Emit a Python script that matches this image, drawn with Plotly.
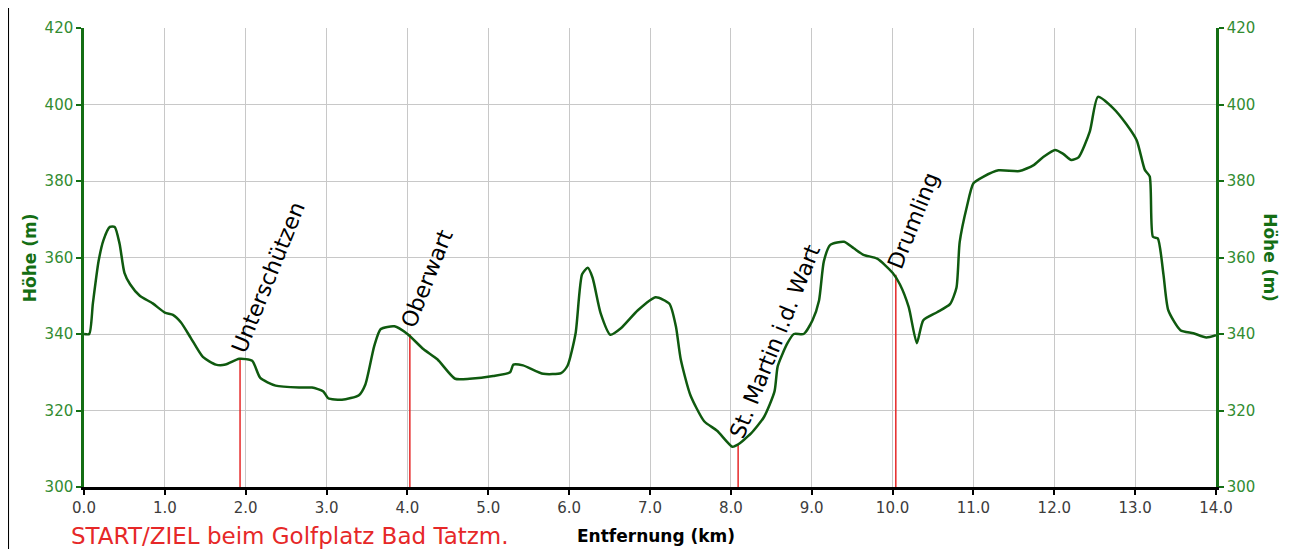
import plotly.graph_objects as go

# Elevation profile (distance km, elevation m)
km = [0.0, 0.065, 0.11, 0.18, 0.24, 0.32, 0.38, 0.44, 0.5, 0.57, 0.69, 0.85, 1.0, 1.1, 1.2, 1.32,
      1.47, 1.63, 1.75, 1.92, 2.08, 2.18, 2.37, 2.66, 2.82, 2.96, 3.02, 3.19, 3.4, 3.48, 3.59,
      3.67, 3.84, 4.0, 4.2, 4.37, 4.59, 4.77, 5.06, 5.27, 5.31, 5.43, 5.68, 5.9, 5.98, 6.08,
      6.16, 6.23, 6.29, 6.39, 6.51, 6.64, 6.85, 7.07, 7.24, 7.32, 7.38, 7.5, 7.67, 7.83, 8.02,
      8.08, 8.25, 8.41, 8.54, 8.58, 8.7, 8.78, 8.9, 9.01, 9.09, 9.15, 9.23, 9.4, 9.52, 9.64,
      9.81, 10.0, 10.09, 10.2, 10.3, 10.38, 10.55, 10.71, 10.79, 10.83, 10.92, 11.0, 11.12,
      11.31, 11.57, 11.74, 11.86, 12.01, 12.11, 12.21, 12.3, 12.44, 12.54, 12.73, 12.89, 13.02,
      13.12, 13.18, 13.22, 13.28, 13.35, 13.41, 13.56, 13.72, 13.88, 14.0]
elev = [340, 340, 348, 359, 364.5, 368, 368, 363.6, 356, 353, 350, 348, 345.6, 345, 343, 339,
        334, 332, 332, 333.5, 333, 328.5, 326.5, 326, 326, 325, 323.2, 322.8, 324, 326.8, 336.9,
        341.3, 342, 340, 336, 333.4, 328.3, 328.3, 329, 330, 332, 331.8, 329.6, 329.8, 331.7, 340.2,
        355.6, 357.3, 354.7, 345.4, 339.8, 341.5, 346.2, 349.6, 347.9, 342, 333.4, 324, 317.2, 314.7, 310.5,
        311, 314, 318.3, 325, 331.6, 337.6, 340, 340, 343.6, 348.7, 359, 363.3, 364.1, 362.4, 360.7,
        359.7, 356, 353, 347, 337.6, 343.6, 345.7, 347.8, 352.1, 364, 373.4, 379.4, 381.1,
        382.8, 382.6, 384.1, 386.2, 388.1, 387.1, 385.5, 386.2, 393, 402, 399, 394.9, 390.6,
        382.9, 381.2, 365.4, 365, 355.6, 346.2, 341, 340.2, 339.1, 339.7]

# Waypoints
wp_names = ["Unterschützen", "Oberwart", "St. Martin i.d. Wart", "Drumling"]
wp_km = [1.93, 4.03, 8.09, 10.04]
wp_elev = [333.5, 340, 311, 355.5]

x_ticks = [i * 1.0 for i in range(15)]
x_ticktext = [f"{v:.1f}" for v in x_ticks]
y_ticks = [300, 320, 340, 360, 380, 400, 420]

GREEN_AX = "rgb(20,110,20)"
GREEN_TXT = "rgb(50,140,50)"
LINE = "rgb(15,90,15)"
FONT = "DejaVu Sans"

fig = go.Figure()

# red waypoint lines
rx, ry = [], []
for k, e in zip(wp_km, wp_elev):
    rx += [k, k, None]
    ry += [300, e, None]
fig.add_trace(go.Scatter(x=rx, y=ry, mode="lines", line=dict(color="rgb(230,40,40)", width=1.5),
                         hoverinfo="skip", showlegend=False))

fig.add_trace(go.Scatter(x=km, y=elev, mode="lines",
                         line=dict(color=LINE, width=2.5, shape="spline", smoothing=0.6),
                         showlegend=False))
# dummy trace for right axis
fig.add_trace(go.Scatter(x=[km[0]], y=[elev[0]], yaxis="y2", mode="lines",
                         line=dict(width=0), hoverinfo="skip", showlegend=False))

for name, k, e in zip(wp_names, wp_km, wp_elev):
    fig.add_annotation(x=k, y=e, text=name, textangle=-68, showarrow=False,
                       xanchor="left", yanchor="bottom", xshift=-16, yshift=0,
                       font=dict(family=FONT, size=22, color="black"))

fig.add_annotation(xref="paper", yref="paper", x=-0.013, y=-0.107, text="START/ZIEL beim Golfplatz Bad Tatzm.",
                   showarrow=False, xanchor="left", yanchor="middle",
                   font=dict(family=FONT, size=23, color="rgb(230,40,40)"))
fig.add_annotation(xref="paper", yref="paper", x=0.505, y=-0.107, text="<b>Entfernung (km)</b>",
                   showarrow=False, xanchor="center", yanchor="middle",
                   font=dict(family=FONT, size=17, color="black"))
fig.add_annotation(xref="paper", yref="paper", x=-0.048, y=0.5, text="<b>Höhe (m)</b>",
                   textangle=-90, showarrow=False, xanchor="center", yanchor="middle",
                   font=dict(family=FONT, size=17, color=GREEN_AX))
fig.add_annotation(xref="paper", yref="paper", x=1.048, y=0.5, text="<b>Höhe (m)</b>",
                   textangle=90, showarrow=False, xanchor="center", yanchor="middle",
                   font=dict(family=FONT, size=17, color=GREEN_AX))

fig.add_shape(type="line", xref="paper", yref="paper", x0=-0.0671, x1=-0.0671, y0=-0.2, y1=1.05,
              line=dict(color="black", width=2))

fig.update_layout(
    width=1290, height=549,
    margin=dict(l=76, r=82, t=11, b=70),
    paper_bgcolor="white", plot_bgcolor="white",
    xaxis=dict(range=[0, 14], tickvals=x_ticks, ticktext=x_ticktext,
               showgrid=True, gridcolor="rgb(200,200,200)", gridwidth=1,
               showline=True, linecolor="black", linewidth=2.5,
               ticks="outside", ticklen=5, tickcolor="black", tickwidth=2,
               tickfont=dict(family=FONT, size=15, color="rgb(60,60,60)"), zeroline=False),
    yaxis=dict(range=[300, 420], tickvals=y_ticks,
               showgrid=True, gridcolor="rgb(200,200,200)", gridwidth=1,
               showline=True, linecolor=GREEN_AX, linewidth=2.5,
               ticks="outside", ticklen=5, tickcolor=GREEN_AX, tickwidth=2,
               tickfont=dict(family=FONT, size=15, color=GREEN_TXT), zeroline=False),
    yaxis2=dict(range=[300, 420], tickvals=y_ticks, overlaying="y", side="right",
                showgrid=False, showline=True, linecolor=GREEN_AX, linewidth=2.5,
                ticks="outside", ticklen=5, tickcolor=GREEN_AX, tickwidth=2,
                tickfont=dict(family=FONT, size=15, color=GREEN_TXT), zeroline=False),
)

fig.write_html("out.html")
